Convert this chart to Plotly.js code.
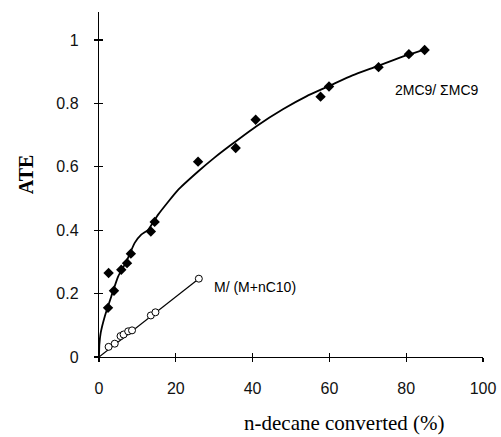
<!DOCTYPE html>
<html>
<head>
<meta charset="utf-8">
<script src="https://cdn.plot.ly/plotly-3.0.1.min.js"></script>
<style>html,body{margin:0;padding:0;background:#fff;}#chart{width:501px;height:437px;}</style>
</head>
<body>
<div id="chart"></div>
<script>
// 2MC9 / ΣMC9 measured points (filled diamonds)
const mc9X = [2.35, 2.5, 3.9, 5.8, 7.3, 8.3, 13.5, 14.5, 25.8, 35.6, 40.8, 57.7, 59.9, 72.8, 80.7, 84.8];
const mc9Y = [0.155, 0.265, 0.209, 0.275, 0.296, 0.326, 0.396, 0.426, 0.616, 0.659, 0.748, 0.821, 0.853, 0.914, 0.955, 0.968];
// fitted curve through 2MC9 / ΣMC9
const mc9FitX = [0, 0.1, 0.44, 1.5, 3.2, 5, 7.1, 9.3, 11, 12.8, 15.4, 20.6, 25.8, 30, 34.5, 41, 48, 54, 60, 66, 72.2, 77, 81, 85];
const mc9FitY = [0, 0.04, 0.076, 0.128, 0.191, 0.254, 0.30, 0.36, 0.386, 0.401, 0.449, 0.527, 0.585, 0.628, 0.670, 0.728, 0.782, 0.822, 0.855, 0.888, 0.916, 0.938, 0.955, 0.970];
// M / (M + nC10) measured points (open circles)
const mX = [2.5, 4.1, 5.6, 6.4, 7.6, 8.6, 13.5, 14.7, 26.0];
const mY = [0.032, 0.042, 0.066, 0.071, 0.081, 0.084, 0.131, 0.141, 0.247];
// straight fit line for M / (M + nC10)
const mFitX = [0, 26.0];
const mFitY = [0, 0.247];
// axis ticks
const xTicks = [0, 20, 40, 60, 80, 100];
const xTickText = ['0', '20', '40', '60', '80', '100'];
const yTicks = [0, 0.2, 0.4, 0.6, 0.8, 1];
const yTickText = ['0', '0.2', '0.4', '0.6', '0.8', '1'];

const traces = [
  {x: mc9FitX, y: mc9FitY, mode: 'lines', line: {color: '#000', width: 1.8, shape: 'spline', smoothing: 0.5}, hoverinfo: 'skip'},
  {x: mc9X, y: mc9Y, mode: 'markers', marker: {symbol: 'diamond', size: 8, color: '#000'}},
  {x: mFitX, y: mFitY, mode: 'lines', line: {color: '#000', width: 1.2}},
  {x: mX, y: mY, mode: 'markers', marker: {symbol: 'circle', size: 7, color: '#fff', line: {color: '#000', width: 1}}},
  {x: [], y: [], xaxis: 'x2', yaxis: 'y2', mode: 'markers', showlegend: false}
];

const tickFont = {family: 'Liberation Sans, Arial, sans-serif', size: 16, color: '#111'};
const layout = {
  width: 501, height: 437,
  margin: {l: 99, r: 18, t: 12, b: 80},
  paper_bgcolor: '#fff', plot_bgcolor: '#fff',
  showlegend: false,
  xaxis: {range: [0, 100], tickvals: xTicks, ticktext: xTickText, ticks: 'outside', ticklen: 4, tickwidth: 1.2, tickcolor: '#000',
          showline: true, linecolor: '#000', linewidth: 1.2, showgrid: false, zeroline: false, tickfont: tickFont, ticklabelstandoff: 13},
  yaxis: {range: [0, 1.088], tickvals: yTicks, ticktext: yTickText, ticks: 'outside', ticklen: 4, tickwidth: 1.2, tickcolor: '#000',
          showline: true, linecolor: '#000', linewidth: 1.2, showgrid: false, zeroline: false, tickfont: tickFont, ticklabelstandoff: 12},
  xaxis2: {range: [0, 100], overlaying: 'x', tickvals: xTicks, ticks: 'inside', ticklen: 4, tickwidth: 1.2, tickcolor: '#000',
           showticklabels: false, showline: false, showgrid: false, zeroline: false, anchor: 'y2'},
  yaxis2: {range: [0, 1.088], overlaying: 'y', tickvals: yTicks, ticks: 'inside', ticklen: 4, tickwidth: 1.2, tickcolor: '#000',
           showticklabels: false, showline: false, showgrid: false, zeroline: false, anchor: 'x2'},
  annotations: [
    {text: '2MC9/ ΣMC9', x: 88, y: 0.843, xref: 'x', yref: 'y', showarrow: false, xanchor: 'center',
     font: {family: 'Liberation Sans, Arial, sans-serif', size: 14, color: '#000'}},
    {text: 'M/ (M+nC10)', x: 40.6, y: 0.222, xref: 'x', yref: 'y', showarrow: false, xanchor: 'center',
     font: {family: 'Liberation Sans, Arial, sans-serif', size: 14, color: '#000'}},
    {text: 'n-decane converted (%)', x: 0.64, y: -0.19, xref: 'paper', yref: 'paper', showarrow: false, xanchor: 'center', yanchor: 'middle',
     font: {family: 'Liberation Serif, Times New Roman, serif', size: 21, color: '#000'}},
    {text: '<b>ATE</b>', x: -0.19, y: 0.53, xref: 'paper', yref: 'paper', showarrow: false, textangle: -90, xanchor: 'center', yanchor: 'middle',
     font: {family: 'Liberation Serif, Times New Roman, serif', size: 20, color: '#000'}}
  ]
};

Plotly.newPlot('chart', traces, layout, {displayModeBar: false, staticPlot: true});
</script>
</body>
</html>
